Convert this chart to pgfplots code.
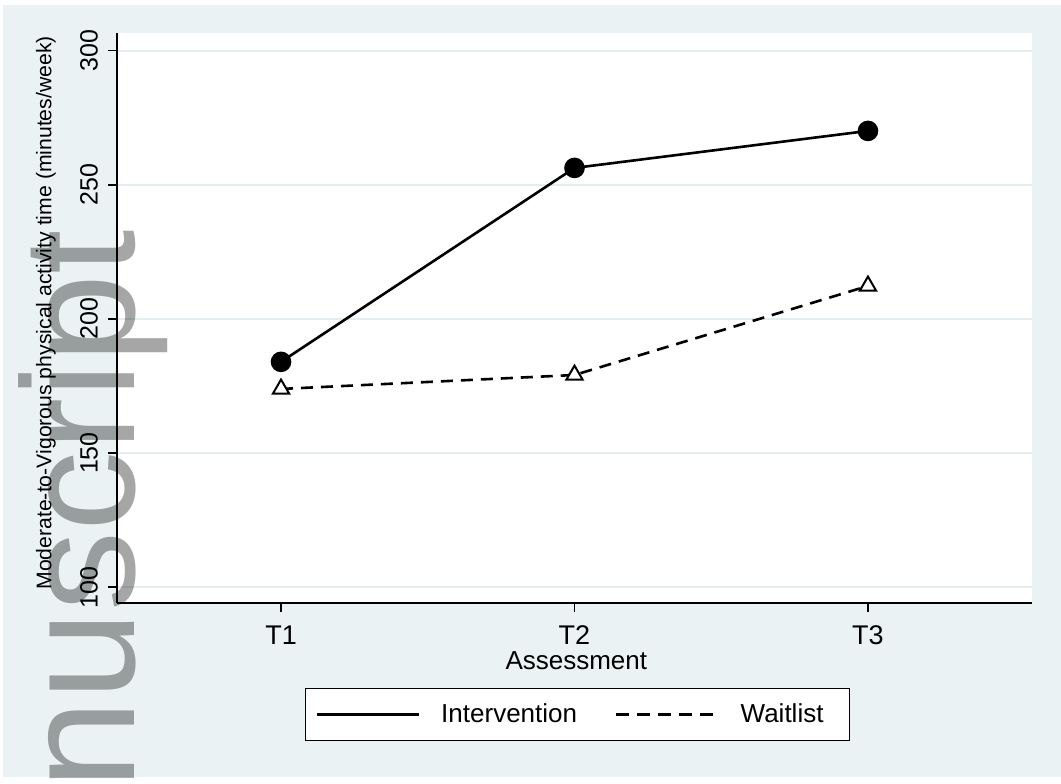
\documentclass[border=0pt]{standalone}
\usepackage{fontspec}
\setmainfont{Liberation Sans}
\usepackage{pgfplots}
\pgfplotsset{compat=1.18}
\definecolor{bgblue}{RGB}{234,242,244}
\definecolor{gridblue}{RGB}{228,238,241}
\begin{document}
\begin{tikzpicture}
\fill[white] (0,0) rectangle (530.5pt,391.5pt);
\fill[bgblue] (1.5pt,3pt) rectangle (530.5pt,389pt);
\begin{axis}[
  at={(58.5pt,90pt)}, anchor=south west,
  scale only axis, width=457.5pt, height=285pt,
  xmin=0.441, xmax=3.559, ymin=94.1, ymax=306.6,
  axis background/.style={fill=white},
  axis x line*=bottom, axis y line*=left,
  axis line style={black, line width=1pt, -},
  xtick={1,2,3}, xticklabels={T1,T2,T3},
  ytick={100,150,200,250,300},
  tick align=outside, major tick length=4.5pt,
  tick style={black, line width=0.7pt},
  ymajorgrids, grid style={gridblue, line width=1pt},
  /pgf/number format/assume math mode=true,
  yticklabel style={rotate=90, anchor=south, font=\fontsize{12.5pt}{15pt}\selectfont},
  yticklabel shift=1.5pt,
  xticklabel style={font=\fontsize{13.5pt}{16pt}\selectfont},
  xticklabel shift=3.5pt,
  xlabel={Assessment},
  every axis x label/.style={at={(axis description cs:0.502,-0.116)}, anchor=base, font=\fontsize{13pt}{15pt}\selectfont},
  ylabel={Moderate-to-Vigorous physical activity time (minutes/week)},
  every axis y label/.style={at={(axis description cs:-0.0776,0.509)}, rotate=90, anchor=center, font=\fontsize{10.6pt}{12pt}\selectfont},
  legend columns=2,
  legend style={at={(0.2055,-0.242)}, anchor=south west, draw=black, line width=0.6pt, fill=white,
    inner xsep=5pt, inner ysep=5.5pt, font=\fontsize{13pt}{15pt}\selectfont,
    /tikz/every odd column/.append style={column sep=8.5pt},
    /tikz/every even column/.append style={column sep=17pt}},
  legend image code/.code={\draw[#1] (0pt,0pt) -- (51pt,0pt);},
]
\addlegendimage{black, line width=1.3pt}
\addlegendentry{Intervention}
\addlegendimage{black, line width=1.3pt, dash pattern=on 6.5pt off 4pt}
\addlegendentry{Waitlist\hbox to 6pt{}}
\addplot[black, line width=1.3pt, mark=*, mark size=4.5pt, forget plot] coordinates {(1,184.0) (2,256.3) (3,270.1)};
\addplot[black, line width=1.3pt, dash pattern=on 6pt off 4pt, mark=triangle*, mark size=4.7pt, mark options={solid, fill=white, line width=1pt}, forget plot] coordinates {(1,173.9) (2,179.1) (3,212.3)};
\end{axis}
\node[overlay, rotate=90, anchor=base east, inner sep=0pt, text=black, opacity=0.35, font=\fontsize{80pt}{90pt}\selectfont] at (67pt,277pt) {Author Manuscript};
\end{tikzpicture}
\end{document}
